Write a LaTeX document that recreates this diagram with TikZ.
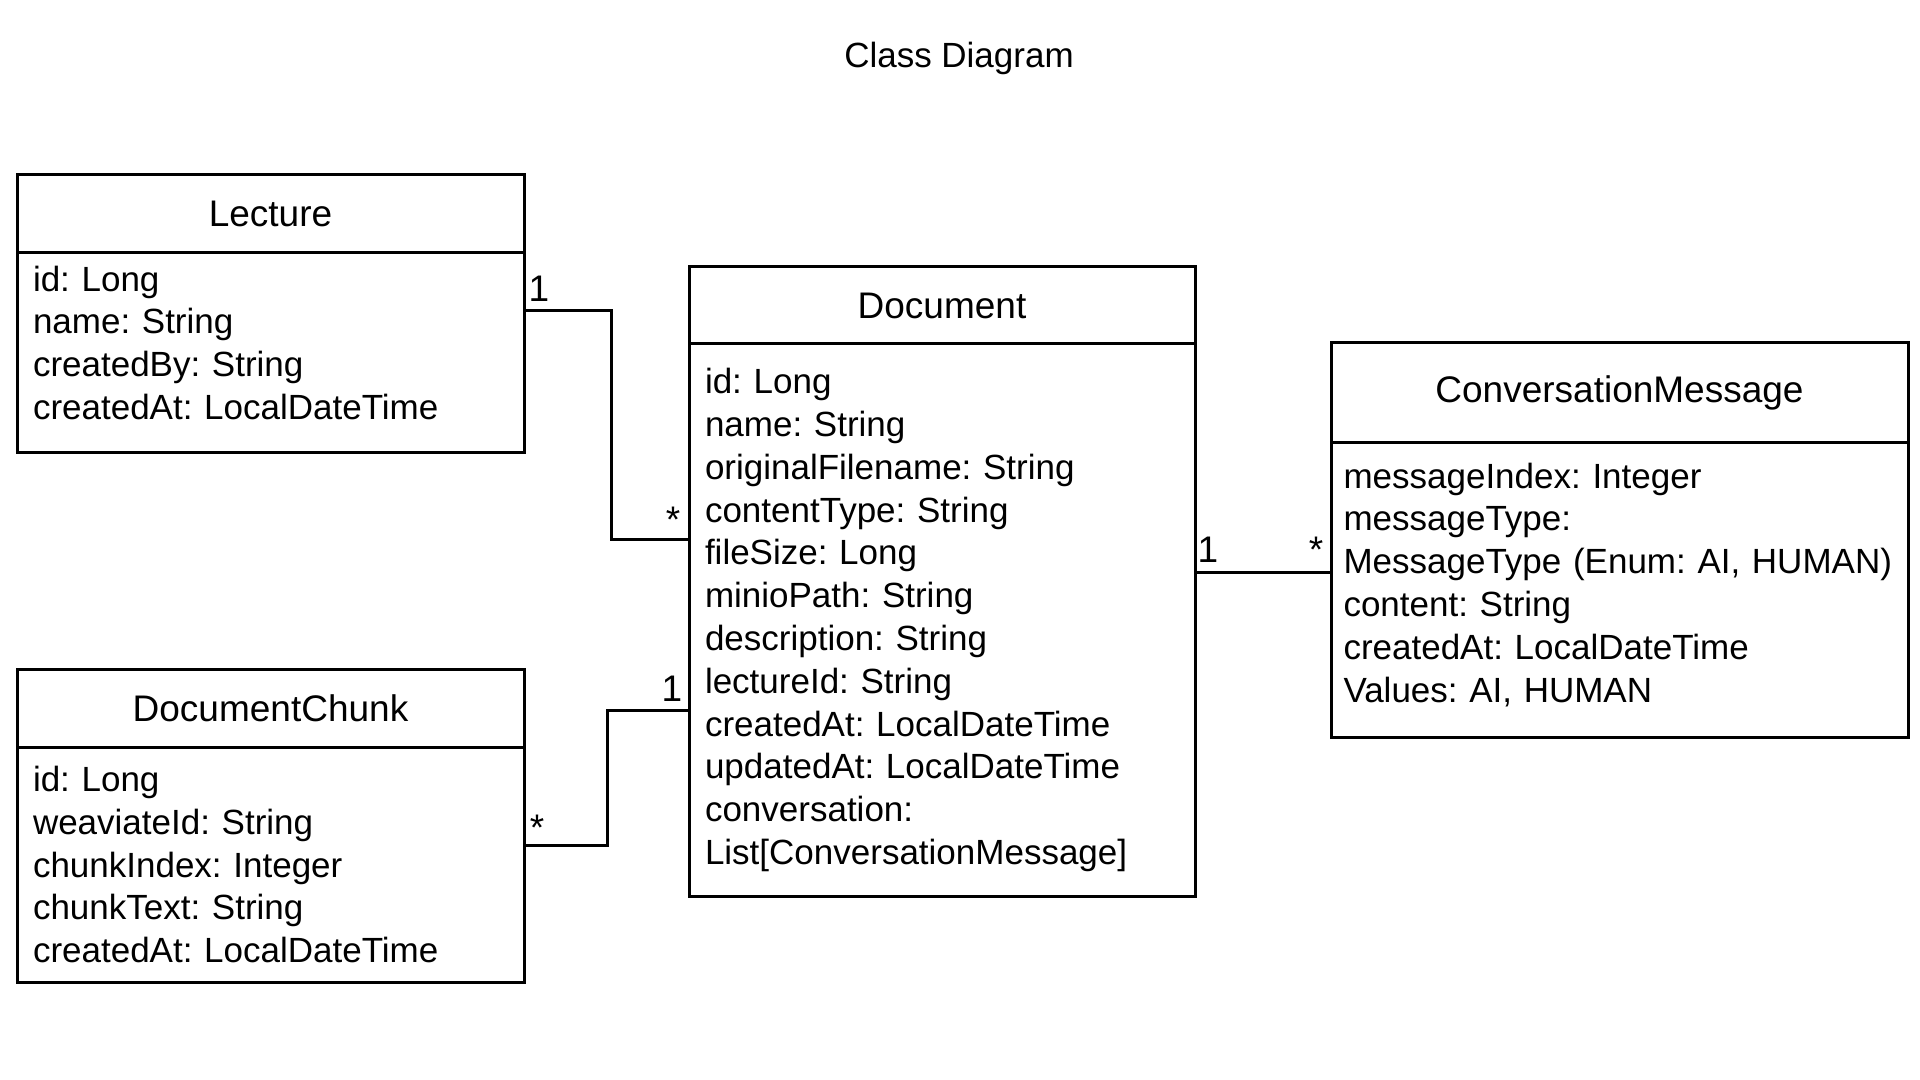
\documentclass[tikz,border=0pt]{standalone}
\usepackage{fontspec}
\setmainfont{Liberation Sans}
\usetikzlibrary{positioning,calc}
\frenchspacing
\begin{document}
\begin{tikzpicture}[x=0.5pt, y=-0.5pt, line width=1.5pt, font=\fontsize{18.5}{21.4}\selectfont]
\tikzstyle{hd}=[draw, rectangle, outer sep=0pt, inner sep=0pt, anchor=north west]
\tikzstyle{bd}=[draw, rectangle, outer sep=0pt, inner xsep=8pt, inner ysep=0pt, align=left, font=\fontsize{17.5}{21.4}\selectfont]
\tikzstyle{mult}=[inner sep=0pt]
\useasboundingbox (0,0) rectangle (1920,1080);
\node (title) at (959,58) {\fontsize{17.5}{20}\selectfont Class Diagram};

\node[hd, minimum width=253.5pt, minimum height=39pt] (lechead) at (17,175) {Lecture};
\node[bd, text width=237.5pt, text depth=74pt, minimum height=99.5pt, below=0pt of lechead] (lecbody) {id: Long\\name: String\\createdBy: String\\createdAt: LocalDateTime};

\node[hd, minimum width=253pt, minimum height=38.5pt] (dochead) at (689,267) {Document};
\node[bd, text width=237pt, minimum height=276pt, below=0pt of dochead] (docbody) {id: Long\\name: String\\originalFilename: String\\contentType: String\\fileSize: Long\\minioPath: String\\description: String\\lectureId: String\\createdAt: LocalDateTime\\updatedAt: LocalDateTime\\conversation:\\List[ConversationMessage]};

\node[hd, minimum width=288.5pt, minimum height=49.5pt] (convhead) at (1331,343) {ConversationMessage};
\node[bd, text width=276pt, inner xsep=6.25pt, text depth=114pt, minimum height=147.5pt, below=0pt of convhead] (convbody) {messageIndex: Integer\\messageType:\\MessageType (Enum: AI, HUMAN)\\content: String\\createdAt: LocalDateTime\\Values: AI, HUMAN};

\node[hd, minimum width=253.5pt, minimum height=39pt] (chunkhead) at (17,669) {DocumentChunk};
\node[bd, text width=237.5pt, minimum height=117.5pt, below=0pt of chunkhead] (chunkbody) {id: Long\\weaviateId: String\\chunkIndex: Integer\\chunkText: String\\createdAt: LocalDateTime};

% associations
\draw ([yshift=-29pt]lecbody.north east) -| (611,539) -- (docbody.west |- 0,539);
\draw ([yshift=-49pt]chunkbody.north east) -| (607,710) -- (docbody.west |- 0,710);
\draw (docbody.east |- 0,572) -- (convbody.west |- 0,572);

\node[mult] (lecone) at (539,289) {1}; \node[mult] (docmany) at (673,520) {*};
\node[mult] (docone) at (672,689) {1}; \node[mult] (chunkmany) at (537,828) {*};
\node[mult] (doconeb) at (1208,550) {1}; \node[mult] (convmany) at (1316,550) {*};
\end{tikzpicture}
\end{document}
